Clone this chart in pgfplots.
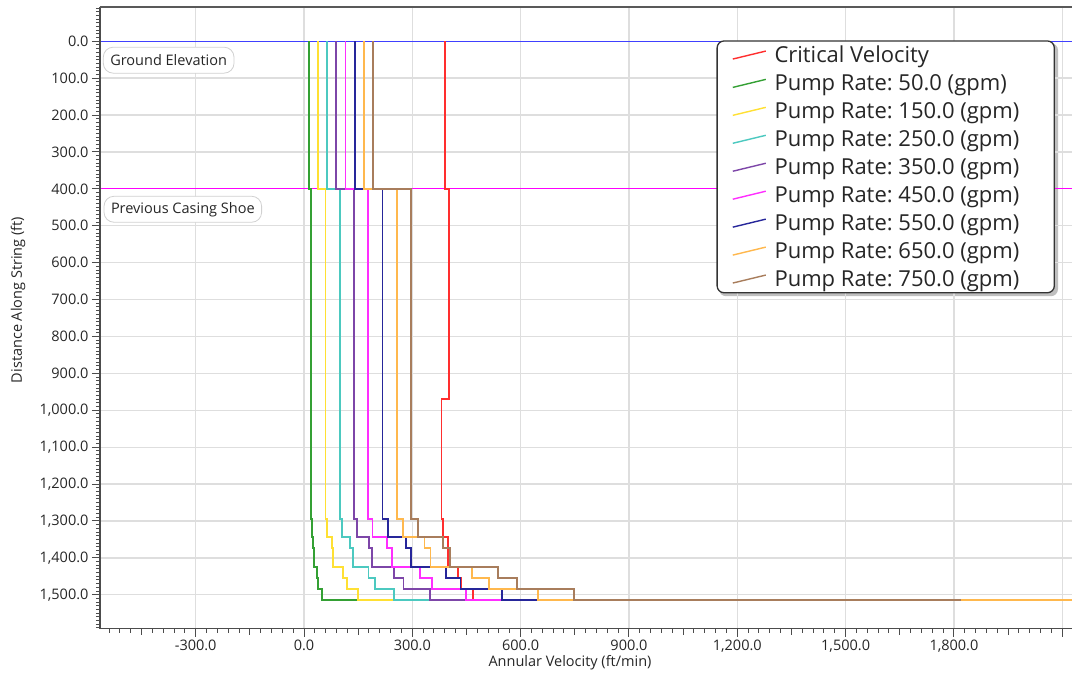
\documentclass[border=0pt]{standalone}
\usepackage{pgfplots}
\pgfplotsset{compat=1.18}
\usepackage{fontspec}
\setmainfont{Open Sans}
\frenchspacing
\definecolor{cvred}{HTML}{FF2E2E}
\definecolor{cgreen}{HTML}{34A034}
\definecolor{cyellow}{HTML}{FFE033}
\definecolor{cteal}{HTML}{4CC9C0}
\definecolor{cpurple}{HTML}{7D46A8}
\definecolor{cmagenta}{HTML}{FF2EFF}
\definecolor{cblue}{HTML}{26269A}
\definecolor{corange}{HTML}{FFB84D}
\definecolor{cbrown}{HTML}{A87D5C}
\definecolor{refblue}{HTML}{4040FF}
\definecolor{refmag}{HTML}{FF00FF}
\begin{document}
\begin{tikzpicture}
\useasboundingbox (-100pt,-45.3pt) rectangle (972pt,628.7pt);
\fill[black, opacity=0.25, rounded corners=7pt] (619pt,332.5pt) rectangle (958pt,585.5pt);
\begin{axis}[
  at={(0pt,0pt)}, anchor=south west,
  scale only axis, width=972pt, height=621.4pt,
  xmin=-565, xmax=2127, ymin=-92, ymax=1592,
  y dir=reverse,
  axis line style={draw=none},
  clip=true,
  xtick={-300,0,...,2100},
  xticklabels={-300.0,0.0,300.0,600.0,900.0,{1,200.0},{1,500.0},{1,800.0},{}},
  ytick={0,100,...,1500},
  minor xtick={-540,-510,...,2120},
  minor ytick={-90,-80,...,1590},
  extra x ticks={-450,-150,150,450,750,1050,1350,1650,1950},
  extra x tick labels={},
  extra x tick style={grid=none, major tick length=6pt},
  yticklabel style={/pgf/number format/.cd, fixed, fixed zerofill, precision=1, 1000 sep={,}},
  /pgf/number format/assume math mode=true,
  tick label style={font=\fontsize{14.5}{16}\selectfont, text=black!85},
  tick align=outside,
  major tick length=8pt, minor tick length=4pt,
  tick style={color=black!70, line width=1pt},
  xtick pos=left, ytick pos=left,
  grid=major, grid style={black!13, line width=1.3pt},
  legend cell align=left,
  legend style={at={(0.9825,0.9469)}, anchor=north east,
    font=\fontsize{22}{26}\selectfont, text=black!85,
    draw=black!80, line width=1.3pt, rounded corners=7pt, fill=white,
    inner xsep=15pt, inner ysep=3pt, row sep=6.5pt,
    /tikz/every odd column/.append style={column sep=6pt}},
  legend image code/.code={\draw[#1, line width=1.4pt, rounded corners=0pt] (0pt,-4pt) -- (33pt,4pt);},
]
\addplot[refblue, line width=1.4pt, forget plot] coordinates {(-600,0) (2300,0)};
\addplot[refmag, line width=1.2pt, forget plot] coordinates {(-600,400) (2300,400)};

\addplot[cvred, line width=1.8pt] coordinates {(390,0) (390,400) (401,400) (401,969) (381,969) (381,1295) (385,1295) (385,1344) (399,1344) (399,1425) (426,1425) (426,1455) (435,1455) (435,1484) (468,1484) (468,1514) (2300,1514)};
\addlegendentry{Critical Velocity}
\addplot[cgreen, line width=1.8pt] coordinates {(12.8,0) (12.8,400) (19.8,400) (19.8,1295) (21.1,1295) (21.1,1344) (25.7,1344) (25.7,1374) (26.9,1374) (26.9,1425) (35.7,1425) (35.7,1455) (39.4,1455) (39.4,1484) (49.9,1484) (49.9,1514) (800,1514)};
\addlegendentry{Pump Rate: 50.0 (gpm)}
\addplot[cyellow, line width=1.8pt] coordinates {(38.3,0) (38.3,400) (59.3,400) (59.3,1295) (63.2,1295) (63.2,1344) (77.0,1344) (77.0,1374) (80.8,1374) (80.8,1425) (107.2,1425) (107.2,1455) (118.2,1455) (118.2,1484) (149.6,1484) (149.6,1514) (900,1514)};
\addlegendentry{Pump Rate: 150.0 (gpm)\kern 18pt\relax}
\addplot[cteal, line width=1.8pt] coordinates {(63.8,0) (63.8,400) (98.8,400) (98.8,1295) (105.3,1295) (105.3,1344) (128.3,1344) (128.3,1374) (134.8,1374) (134.8,1425) (178.8,1425) (178.8,1455) (197.0,1455) (197.0,1484) (249.3,1484) (249.3,1514) (1000,1514)};
\addlegendentry{Pump Rate: 250.0 (gpm)}
\addplot[cpurple, line width=1.8pt] coordinates {(89.3,0) (89.3,400) (138.3,400) (138.3,1295) (147.4,1295) (147.4,1344) (179.6,1344) (179.6,1374) (188.7,1374) (188.7,1425) (250.3,1425) (250.3,1455) (275.8,1455) (275.8,1484) (349.0,1484) (349.0,1514) (1100,1514)};
\addlegendentry{Pump Rate: 350.0 (gpm)}
\addplot[cmagenta, line width=1.8pt] coordinates {(114.8,0) (114.8,400) (177.8,400) (177.8,1295) (189.5,1295) (189.5,1344) (230.9,1344) (230.9,1374) (242.6,1374) (242.6,1425) (321.8,1425) (321.8,1455) (354.6,1455) (354.6,1484) (448.7,1484) (448.7,1514) (1200,1514)};
\addlegendentry{Pump Rate: 450.0 (gpm)}
\addplot[cblue, line width=1.8pt] coordinates {(140.3,0) (140.3,400) (217.3,400) (217.3,1295) (231.6,1295) (231.6,1344) (282.2,1344) (282.2,1374) (296.5,1374) (296.5,1425) (393.3,1425) (393.3,1455) (433.4,1455) (433.4,1484) (548.4,1484) (548.4,1514) (1300,1514)};
\addlegendentry{Pump Rate: 550.0 (gpm)}
\addplot[corange, line width=1.8pt] coordinates {(165.8,0) (165.8,400) (256.8,400) (256.8,1295) (273.7,1295) (273.7,1344) (333.5,1344) (333.5,1374) (350.4,1374) (350.4,1425) (464.8,1425) (464.8,1455) (512.2,1455) (512.2,1484) (648.1,1484) (648.1,1514) (2300,1514)};
\addlegendentry{Pump Rate: 650.0 (gpm)}
\addplot[cbrown, line width=1.8pt] coordinates {(191.3,0) (191.3,400) (296.3,400) (296.3,1295) (315.8,1295) (315.8,1344) (384.8,1344) (384.8,1374) (404.3,1374) (404.3,1425) (536.3,1425) (536.3,1455) (591.0,1455) (591.0,1484) (747.8,1484) (747.8,1514) (1820,1514)};
\addlegendentry{Pump Rate: 750.0 (gpm)}

\node[draw=black!18, line width=0.8pt, rounded corners=10pt, fill=white, font=\fontsize{14.5}{16}\selectfont, text=black!85, anchor=north west, inner xsep=7pt, minimum height=26pt] at (axis cs:-557,15) {Ground Elevation};
\node[draw=black!18, line width=0.8pt, rounded corners=10pt, fill=white, font=\fontsize{14.5}{16}\selectfont, text=black!85, anchor=north west, inner xsep=7pt, minimum height=26pt] at (axis cs:-555,419) {Previous Casing Shoe};
\end{axis}
\draw[black!70, line width=1.5pt] (0pt,621.4pt) -- (0pt,0pt) -- (972pt,0pt);
\draw[black!65, line width=2pt] (0pt,621.4pt) -- (972pt,621.4pt);
\node[font=\fontsize{14.5}{16}\selectfont, text=black!85] at (470pt,-34.3pt) {Annular Velocity (ft/min)};
\node[font=\fontsize{14.5}{16}\selectfont, text=black!85, rotate=90] at (-82pt,328.7pt) {Distance Along String (ft)};
\end{tikzpicture}
\end{document}
